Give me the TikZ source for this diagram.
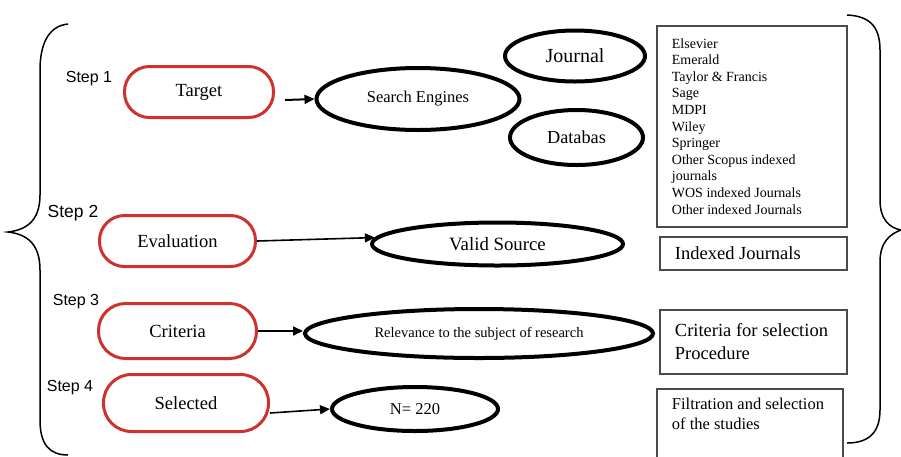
\documentclass[tikz,border=0pt]{standalone}
\usepackage{fontspec}
\setmainfont{Liberation Serif}
\newfontfamily\stepfont{Liberation Sans}
\usetikzlibrary{arrows.meta,shapes.geometric}
\definecolor{boxred}{RGB}{205,50,45}
\definecolor{framegray}{RGB}{75,75,75}
\newcommand\myfs[2]{\fontsize{#1}{#2}\selectfont}
\begin{document}
\begin{tikzpicture}[x=1pt,y=-1pt,
  stepbox/.style={draw=boxred, line width=3pt, inner sep=0pt, font=\myfs{18.5}{22}},
  oval/.style={draw=black, line width=4pt, ellipse, inner sep=0pt},
  infobox/.style={draw=framegray, line width=1.8pt, inner sep=0pt, anchor=north west},
  steplabel/.style={font=\stepfont\myfs{16}{19}},
  arr/.style={line width=1.6pt, -{Triangle[length=10pt,width=9pt]}},
  brace/.style={line width=1.5pt}]
\useasboundingbox (0,0) rectangle (901,456);

% step labels
\node[steplabel] (s1) at (89,79) {Step 1};
\node[steplabel, font=\stepfont\myfs{17.5}{20}] (s2) at (73,213) {Step 2};
\node[steplabel] (s3) at (76,302) {Step 3};
\node[steplabel] (s4) at (70,388) {Step 4};

% red step boxes
\node[stepbox, rounded corners=25pt, minimum width=149pt, minimum height=51pt] (target) at (199,92) {Target};
\node[stepbox, rounded corners=25pt, minimum width=156pt, minimum height=51pt] (eval) at (177.5,241) {Evaluation};
\node[stepbox, rounded corners=27pt, minimum width=158pt, minimum height=55pt] (crit) at (177.5,331) {Criteria};
\node[stepbox, rounded corners=28pt, minimum width=165pt, minimum height=57pt] (sel) at (186,403) {Selected};

% ellipses
\node[oval, minimum width=203pt, minimum height=62pt, font=\myfs{16.5}{19}] (search) at (418,99) {Search Engines};
\node[oval, minimum width=140pt, minimum height=51pt, font=\myfs{20}{23}] (journal) at (575,56) {Journal};
\node[oval, minimum width=133pt, minimum height=55pt, font=\myfs{18.3}{21}] (databas) at (576.5,137.5) {Databas};
\node[oval, minimum width=251pt, minimum height=43pt, font=\myfs{18.8}{22}] (valid) at (497.5,244) {Valid Source};
\node[oval, minimum width=348pt, minimum height=49pt, font=\myfs{14.5}{17}] (rel) at (479,333.5) {Relevance to the subject of research};
\node[oval, minimum width=166pt, minimum height=44pt, font=\myfs{16.5}{19}] (nn) at (415,409) {N= 220};

% information boxes
\node[infobox, minimum width=190pt, minimum height=201pt] (list) at (656,25)
  {\parbox{160pt}{\raggedright\myfs{14}{16.6}Elsevier\\Emerald\\Taylor \& Francis\\Sage\\MDPI\\Wiley\\Springer\\Other Scopus indexed\\journals\\WOS indexed Journals\\Other indexed Journals}};
\node[infobox, minimum width=187pt, minimum height=33pt] (indexed) at (659,236)
  {\parbox{157pt}{\raggedright\myfs{18.5}{22}Indexed Journals}};
\node[infobox, minimum width=187pt, minimum height=64pt] (critbox) at (659,309)
  {\parbox{157pt}{\raggedright\myfs{18.5}{23}Criteria for selection\\Procedure}};
\node[infobox, minimum width=186pt, minimum height=85pt] (filt) at (656,388)
  {\parbox[c][83pt][t]{156pt}{\vspace*{8pt}\raggedright\myfs{16.5}{20}Filtration and selection\\of the studies}};

% arrows
\draw[arr, line width=2pt] ([xshift=10pt,yshift=-8pt]target.east) -- (search.west);
\draw[arr] (eval.east) -- (valid.177);
\draw[arr] (crit.east) -- (crit.east -| rel.west);
\draw[arr] ([yshift=-10pt]sel.east) -- (nn.west);

% braces
\draw[brace] (68,24) .. controls (48,26) and (40,45) .. (40,70) -- (40,195)
  .. controls (40,222) and (25,230) .. (8,232)
  .. controls (25,234) and (40,242) .. (40,270) -- (40,420)
  .. controls (40,445) and (50,455) .. (68,455);
\draw[brace] (847,15) .. controls (868,16) and (880,25) .. (880,50) -- (880,200)
  .. controls (880,220) and (890,228) .. (901,230)
  .. controls (890,234) and (880,242) .. (880,262) -- (880,410)
  .. controls (880,435) and (866,443) .. (847,443);
\end{tikzpicture}
\end{document}
